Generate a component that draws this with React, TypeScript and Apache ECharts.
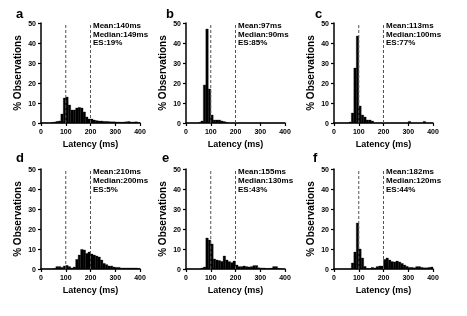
import { useEffect, useRef } from "react";
import * as echarts from "echarts";

// Latency histograms: 10 ms bins starting at 0, 10, ..., 390 ms (percent of observations)
const BIN_WIDTH = 10;
const BIN_STARTS = [
  0, 10, 20, 30, 40, 50, 60, 70, 80, 90, 100, 110, 120, 130, 140, 150, 160, 170, 180, 190,
  200, 210, 220, 230, 240, 250, 260, 270, 280, 290, 300, 310, 320, 330, 340, 350, 360, 370, 380, 390,
];

const histA = [
  0, 0, 0, 0, 0.3, 0.5, 0.8, 1, 4.5, 12.5, 13, 9, 6.5, 6.5, 7.5, 7.8, 7.5, 5.5, 3, 2,
  2, 1.5, 1.2, 1, 1, 0.8, 0.8, 0.7, 0.6, 0.6, 0.5, 0.5, 0.4, 0.5, 0.6, 0.7, 0.5, 0.5, 0.6, 0.3,
];
const histB = [
  0, 0, 0, 0, 0, 0.3, 1, 19, 47, 17, 4, 1.5, 1.5, 1.5, 1, 0.7, 0.3, 0, 0, 0,
  0, 0, 0, 0, 0, 0, 0, 0, 0, 0, 0, 0, 0, 0, 0, 0, 0, 0, 0, 0,
];
const histC = [
  0, 0, 0, 0, 0, 0, 0.5, 5, 27.5, 43.5, 8.5, 4, 3, 1.5, 1.5, 1, 0, 0, 0, 0,
  0, 0, 0, 0, 0, 0, 0, 0, 0, 0, 0.8, 0, 0, 0, 0, 0, 0.8, 0, 0, 0,
];
const histD = [
  0, 0, 0, 0, 0, 0.3, 1.2, 1.2, 0.8, 1.5, 1.8, 1.2, 0.5, 1, 4.8, 7, 9.8, 9.5, 7.8, 8.5,
  7.5, 7, 6.5, 6, 4.5, 2.8, 2.2, 1.5, 1.5, 1, 0.8, 0.8, 0.5, 0.5, 0.5, 0.5, 0.5, 0.5, 0.5, 0.3,
];
const histE = [
  0, 0, 0, 0, 0, 0, 0.5, 1, 15.5, 14.5, 12.5, 5, 4.5, 4.2, 3.8, 6.5, 4.5, 3.7, 3.2, 4,
  2, 1.2, 1.2, 1.5, 1.2, 1, 1.2, 1.7, 1.7, 0.6, 0.5, 0.5, 0.3, 0.3, 0.4, 1.2, 1.2, 0.3, 0.2, 0,
];
const histF = [
  0, 0, 0, 0, 0, 0, 0, 3, 8.5, 23, 10, 5.5, 1.3, 0.3, 0.2, 0.8, 0.5, 1.2, 1.5, 1.5,
  4.8, 5.5, 4.5, 3.7, 3.5, 4, 3.5, 2.8, 2, 1.3, 0.8, 0.8, 0.6, 1.2, 1.2, 0.8, 0.6, 0.6, 0.8, 1,
];

const PANEL_LETTERS = ["a", "b", "c", "d", "e", "f"];
const MEAN_MS = [140, 97, 113, 210, 155, 182];
const MEDIAN_MS = [149, 90, 100, 200, 130, 120];
const ES_PCT = [19, 85, 77, 5, 43, 44];
const HISTS = [histA, histB, histC, histD, histE, histF];

// Reference latencies marked with dashed lines
const MARKS_MS = [100, 200];

const X_TICKS = { min: 0, max: 400, interval: 100 };
const Y_TICKS = { min: 0, max: 50, interval: 10 };

// Layout
const GRID_LEFT = [41, 186, 334];
const GRID_TOP = [23, 169];
const GRID_W = 99;
const GRID_H = 100;
const LETTER_DX = [-25, -20, -19, -25, -24, -21];
const LETTER_DY = [-3, -5];
const FONT = "'Liberation Sans', Arial, Helvetica, sans-serif";

export default function App() {
  const ref = useRef<HTMLDivElement>(null);

  useEffect(() => {
    if (!ref.current) return;
    const chart = echarts.init(ref.current, undefined, { renderer: "svg" });

    const tickLabel = { fontFamily: FONT, fontWeight: "bold", fontSize: 7, color: "#000", margin: 5 };
    const axisCommon = {
      axisLine: { show: true, onZero: false, lineStyle: { color: "#000", width: 1.5 } },
      axisTick: { show: true, length: 3, lineStyle: { color: "#000", width: 1.2 } },
      splitLine: { show: false },
      nameLocation: "middle",
      axisLabel: tickLabel,
    };

    const xAxes = HISTS.map((_, i) => ({
      ...axisCommon,
      gridIndex: i,
      type: "value",
      ...X_TICKS,
      name: "Latency (ms)",
      nameGap: 16,
      nameTextStyle: { fontFamily: FONT, fontWeight: "bold", fontSize: 9, color: "#000" },
    }));

    const yAxes = HISTS.map((_, i) => ({
      ...axisCommon,
      gridIndex: i,
      type: "value",
      ...Y_TICKS,
      name: "% Observations",
      nameGap: 19,
      nameTextStyle: { fontFamily: FONT, fontWeight: "bold", fontSize: 10, color: "#000" },
    }));

    const series: any[] = [];
    HISTS.forEach((hist, i) => {
      series.push({
        type: "custom",
        xAxisIndex: i,
        yAxisIndex: i,
        data: hist.map((v, k) => [BIN_STARTS[k], v]),
        encode: { x: 0, y: 1 },
        renderItem: (_p: any, api: any) => {
          const start = api.value(0);
          const p0 = api.coord([start, 0]);
          const p1 = api.coord([start + BIN_WIDTH, api.value(1)]);
          return {
            type: "rect",
            shape: { x: p0[0], y: p1[1], width: p1[0] - p0[0], height: p0[1] - p1[1] },
            style: { fill: "#000", stroke: "#000", lineWidth: 0.3 },
          };
        },
      });
      MARKS_MS.forEach((ms) => {
        series.push({
          type: "line",
          xAxisIndex: i,
          yAxisIndex: i,
          data: [
            [ms, Y_TICKS.min],
            [ms, Y_TICKS.max],
          ],
          symbol: "none",
          lineStyle: { color: "#555", width: 1, type: [3, 2] },
        });
      });
    });

    chart.setOption({
      animation: false,
      grid: HISTS.map((_, i) => ({
        left: GRID_LEFT[i % 3],
        top: GRID_TOP[Math.floor(i / 3)],
        width: GRID_W,
        height: GRID_H,
      })),
      xAxis: xAxes,
      yAxis: yAxes,
      series,
    });

    // Panel letters and summary statistics, placed from the axes' own scales
    const graphic: any[] = [];
    HISTS.forEach((_, i) => {
      const row = Math.floor(i / 3);
      const corner = chart.convertToPixel({ gridIndex: i } as any, [X_TICKS.min, Y_TICKS.max]) as number[];
      const high = chart.convertToPixel({ gridIndex: i } as any, [MARKS_MS[1], Y_TICKS.max]) as number[];
      graphic.push({
        type: "text",
        x: corner[0] + LETTER_DX[i],
        y: corner[1] + LETTER_DY[row],
        style: {
          text: PANEL_LETTERS[i],
          font: `bold 13px ${FONT}`,
          fill: "#000",
          verticalAlign: "bottom",
        },
      });
      graphic.push({
        type: "text",
        x: high[0] + 2.5,
        y: high[1] - 2 + row * 0.5,
        style: {
          text: `Mean:${MEAN_MS[i]}ms\nMedian:${MEDIAN_MS[i]}ms\nES:${ES_PCT[i]}%`,
          font: `bold 8px ${FONT}`,
          lineHeight: 8.7,
          fill: "#000",
          verticalAlign: "top",
        },
      });
    });
    chart.setOption({ graphic });

    return () => chart.dispose();
  }, []);

  return <div ref={ref} style={{ position: "fixed", left: 0, top: 0, width: 467, height: 316 }} />;
}
